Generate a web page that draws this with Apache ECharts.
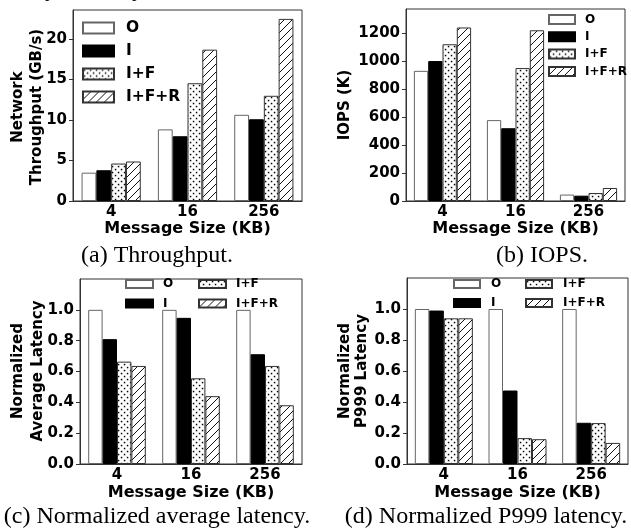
<!DOCTYPE html>
<html>
<head>
    <meta charset="utf-8">
    <title>RDMA network results</title>
    <script src="https://cdn.jsdelivr.net/npm/echarts@6/dist/echarts.min.js"></script>
</head>
<body style="margin:0">
    <div id="main" style="width: 631px;height:529px;"></div>

    <script type="text/javascript">
        // data
        var categories = ['4', '16', '256'];
        var seriesNames = ['O', 'I', 'I+F', 'I+F+R'];

        var throughputO = [3.5, 8.85, 10.65];
        var throughputI = [3.8, 8.0, 10.1];
        var throughputIF = [4.63, 14.55, 13.0];
        var throughputIFR = [4.88, 18.7, 22.5];

        var iopsO = [930, 578, 46];
        var iopsI = [1000, 520, 38];
        var iopsIF = [1120, 950, 57];
        var iopsIFR = [1240, 1220, 93];

        var avgLatO = [1.0, 1.0, 1.0];
        var avgLatI = [0.81, 0.948, 0.712];
        var avgLatIF = [0.664, 0.556, 0.636];
        var avgLatIFR = [0.636, 0.44, 0.381];

        var p999O = [1.0, 1.0, 1.0];
        var p999I = [0.99, 0.474, 0.266];
        var p999IF = [0.94, 0.167, 0.264];
        var p999IFR = [0.94, 0.16, 0.136];

        var ticksThroughput = [0, 5, 10, 15, 20];
        var ticksIops = [0, 200, 400, 600, 800, 1000, 1200];
        var ticksLatency = [0, 0.2, 0.4, 0.6, 0.8, 1.0];

        // hatch fills
        function dotPattern() {
            var c = document.createElement('canvas');
            c.width = 6; c.height = 6;
            var ctx = c.getContext('2d');
            ctx.fillStyle = '#fff';
            ctx.fillRect(0, 0, 6, 6);
            ctx.fillStyle = '#000';
            ctx.fillRect(0.8, 0.8, 1.5, 1.5);
            ctx.fillRect(3.8, 3.8, 1.5, 1.5);
            return c;
        }
        function slashPattern() {
            var s = 8;
            var c = document.createElement('canvas');
            c.width = s; c.height = s;
            var ctx = c.getContext('2d');
            ctx.fillStyle = '#fff';
            ctx.fillRect(0, 0, s, s);
            ctx.strokeStyle = '#111';
            ctx.lineWidth = 1;
            ctx.beginPath();
            ctx.moveTo(0, s); ctx.lineTo(s, 0);
            ctx.moveTo(-1, 1); ctx.lineTo(1, -1);
            ctx.moveTo(s - 1, s + 1); ctx.lineTo(s + 1, s - 1);
            ctx.stroke();
            return c;
        }

        var fills = {
            'O': { color: '#fff', borderColor: '#666' },
            'I': { color: '#000', borderColor: '#000' },
            'I+F': { color: { image: dotPattern(), repeat: 'repeat' }, borderColor: '#333' },
            'I+F+R': { color: { image: slashPattern(), repeat: 'repeat' }, borderColor: '#333' }
        };

        var font = 'DejaVu Sans';
        var serif = 'Liberation Serif';

        function makeSeries(dataList, idx, barW) {
            return dataList.map(function (d, i) {
                var f = fills[seriesNames[i]];
                return {
                    name: seriesNames[i],
                    type: 'bar',
                    xAxisIndex: idx,
                    yAxisIndex: idx,
                    data: d,
                    barWidth: barW,
                    barGap: '0%',
                    silent: true,
                    itemStyle: {
                        color: f.color,
                        borderColor: f.borderColor,
                        borderWidth: 1
                    }
                };
            });
        }

        function xAxis(idx, gap) {
            return {
                type: 'category',
                gridIndex: idx,
                data: categories,
                name: 'Message Size (KB)',
                nameLocation: 'middle',
                nameGap: gap,
                nameTextStyle: { fontFamily: font, fontWeight: 'bold', fontSize: 16, color: '#000' },
                axisLine: { lineStyle: { color: '#333' } },
                axisTick: { alignWithLabel: true, length: 4, lineStyle: { color: '#333' } },
                axisLabel: { margin: 4, fontFamily: font, fontWeight: 'bold', fontSize: 15, color: '#000' }
            };
        }

        function yAxis(idx, max, ticks, digits) {
            return {
                type: 'value',
                gridIndex: idx,
                min: 0,
                max: max,
                splitLine: { show: false },
                axisLine: { show: true, lineStyle: { color: '#333' } },
                axisTick: { show: true, length: 4, customValues: ticks, lineStyle: { color: '#333' } },
                axisLabel: {
                    margin: 6,
                    customValues: ticks,
                    fontFamily: font, fontWeight: 'bold', fontSize: 15, color: '#000',
                    formatter: function (v) { return digits ? v.toFixed(digits) : String(v); }
                }
            };
        }

        function grid(l, t, w, h) {
            return {
                left: l, top: t, width: w, height: h,
                show: true, borderColor: '#333', borderWidth: 1,
                backgroundColor: 'transparent',
                containLabel: false, outerBoundsMode: 'none'
            };
        }

        function legend(names, left, top, w, h, fs, lh, gap, pad) {
            return {
                data: names,
                orient: 'vertical',
                left: left, top: top,
                itemWidth: w, itemHeight: h,
                itemGap: gap,
                icon: 'rect',
                selectedMode: false,
                padding: 0,
                textStyle: { fontFamily: font, fontWeight: 'bold', fontSize: fs, lineHeight: lh, color: '#000', padding: [0, 0, 0, pad] }
            };
        }

        function vtext(text, x, y, size) {
            return {
                type: 'text', x: x, y: y, rotation: Math.PI / 2,
                style: { text: text, fill: '#000', font: 'bold ' + size + 'px "' + font + '"', align: 'center', verticalAlign: 'middle' }
            };
        }
        function caption(text, x, y) {
            return {
                type: 'text', x: x, y: y,
                style: { text: text, fill: '#000', font: '24px "' + serif + '"', align: 'center', verticalAlign: 'middle' }
            };
        }

        var myChart = echarts.init(document.getElementById('main'));

        var option = {
            animation: false,
            backgroundColor: '#fff',
            grid: [
                grid(73, 10, 229, 191),
                grid(406, 9, 219, 192),
                grid(80, 279, 222, 185),
                grid(407, 278, 221, 186)
            ],
            xAxis: [xAxis(0, 20), xAxis(1, 20), xAxis(2, 21), xAxis(3, 21)],
            yAxis: [
                yAxis(0, 23.6, ticksThroughput, 0),
                yAxis(1, 1372, ticksIops, 0),
                yAxis(2, 1.2, ticksLatency, 1),
                yAxis(3, 1.2, ticksLatency, 1)
            ],
            legend: [
                legend(seriesNames, 82, 20, 31, 11, 15.5, 16, 7, 7),
                legend(seriesNames, 548, 13, 26, 9, 12, 13, 4.3, 5),
                legend(['O', 'I'], 125, 277, 27, 8, 12, 14, 5.5, 5),
                legend(['I+F', 'I+F+R'], 198, 277, 27, 8, 12, 14, 5.5, 5),
                legend(['O', 'I'], 453, 277, 26, 8, 12, 14, 5, 6),
                legend(['I+F', 'I+F+R'], 525, 277, 26, 8, 12, 14, 5, 6)
            ],
            graphic: [
                {
                    type: 'text', x: 8, y: 1,
                    style: { text: 'dual-port 100 Gbps PFC-free RDMA network.', fill: '#000', font: '18px "' + serif + '"', align: 'left', verticalAlign: 'bottom' }
                },
                vtext('Network', 18, 107, 15),
                vtext('Throughput (GB/s)', 37, 107, 15),
                vtext('IOPS (K)', 345, 105, 15),
                vtext('Normalized', 18, 371, 15),
                vtext('Average Latency', 38, 371, 15),
                vtext('Normalized', 345, 371, 15),
                vtext('P999 Latency', 362, 371, 15),
                caption('(a) Throughput.', 157, 256),
                caption('(b) IOPS.', 542, 256),
                caption('(c) Normalized average latency.', 157, 517),
                caption('(d) Normalized P999 latency.', 486, 517)
            ],
            series: [].concat(
                makeSeries([throughputO, throughputI, throughputIF, throughputIFR], 0, 14.8),
                makeSeries([iopsO, iopsI, iopsIF, iopsIFR], 1, 14.3),
                makeSeries([avgLatO, avgLatI, avgLatIF, avgLatIFR], 2, 14.4),
                makeSeries([p999O, p999I, p999IF, p999IFR], 3, 14.5)
            )
        };

        myChart.setOption(option);
    </script>
</body>
</html>
